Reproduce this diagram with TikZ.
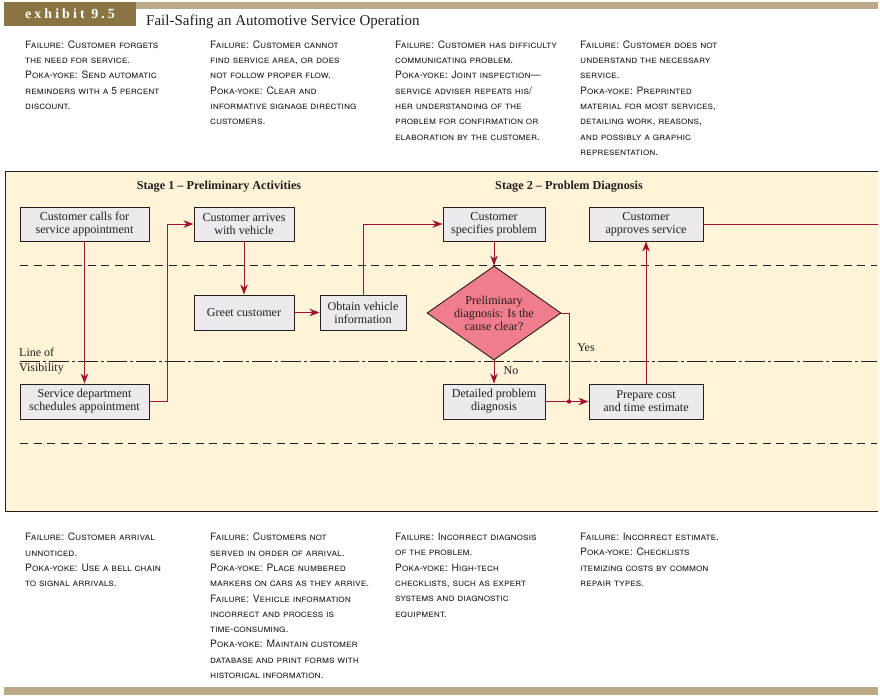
\documentclass[tikz,border=0pt]{standalone}
\usepackage{fontspec}
\setmainfont{Liberation Serif}
\newfontfamily\heros{TeX Gyre Heros}
\newfontfamily\exfont[LetterSpace=22]{Liberation Serif}
\usetikzlibrary{arrows.meta,shapes.geometric}
\definecolor{cream}{HTML}{FFF4D7}
\definecolor{boxfill}{HTML}{EDE9EE}
\definecolor{linered}{HTML}{A50F33}
\definecolor{pinkd}{HTML}{F07D8B}
\definecolor{goldd}{HTML}{8A7441}
\definecolor{goldl}{HTML}{BCA985}
\definecolor{ink}{HTML}{231F20}
\tikzset{
  procbox/.style={draw=ink, line width=0.9pt, fill=boxfill, align=center, inner sep=1pt,
    font=\fontsize{12.1}{13}\selectfont, text=ink},
  decbox/.style={diamond, draw=ink, line width=0.9pt, fill=pinkd, align=center, inner sep=0pt,
    aspect=1.4, minimum width=134pt, minimum height=94pt, font=\fontsize{12.1}{13}\selectfont, text=ink},
  conn/.style={draw=linered, line width=1pt, -{Stealth[length=10pt,width=7.5pt,inset=3pt]}},
  plainconn/.style={draw=linered, line width=1pt},
  lanedash/.style={draw=ink, line width=1pt, dash pattern=on 8pt off 5.5pt},
  visline/.style={draw=ink, line width=1pt, dash pattern=on 20pt off 3pt on 3pt off 3pt},
  coltext/.style={anchor=north west, align=left, inner sep=0pt, text=ink,
    font=\heros\scshape\fontsize{10.2}{15.3}\selectfont},
  stagelbl/.style={font=\bfseries\fontsize{12.2}{13}\selectfont, text=ink, inner sep=0pt},
  plainlbl/.style={font=\fontsize{12}{15}\selectfont, text=ink, inner sep=0pt, align=left}
}
\begin{document}
\begin{tikzpicture}[x=1pt,y=-1pt]
\useasboundingbox (0,0) rectangle (880,699);
% header
\fill[goldl] (136,2) rectangle (878,9);
\fill[goldd] (4,2) rectangle (136,26);
\node[text=white, font=\exfont\bfseries\fontsize{14}{15}\selectfont, inner sep=0pt] (exh) at (70,14) {exhibit 9.5};
\node[anchor=base west, inner sep=0pt, text=ink, font=\fontsize{15}{16}\selectfont] (title) at (146,25.5) {Fail-Safing an Automotive Service Operation};
\fill[goldl] (4,687) rectangle (878,695);
% top columns
\node[coltext] (t1) at (25,40.5) {Failure: Customer forgets\\the need for service.\\Poka-yoke: Send automatic\\reminders with a 5 percent\\discount.};
\node[coltext] (t2) at (210,40.5) {Failure: Customer cannot\\find service area, or does\\not follow proper flow.\\Poka-yoke: Clear and\\informative signage directing\\customers.};
\node[coltext] (t3) at (395,40.5) {Failure: Customer has difficulty\\communicating problem.\\Poka-yoke: Joint inspection—\\service adviser repeats his/\\her understanding of the\\problem for confirmation or\\elaboration by the customer.};
\node[coltext] (t4) at (580,40.5) {Failure: Customer does not\\understand the necessary\\service.\\Poka-yoke: Preprinted\\material for most services,\\detailing work, reasons,\\and possibly a graphic\\representation.};
% bottom columns
\node[coltext] (b1) at (25,533) {Failure: Customer arrival\\unnoticed.\\Poka-yoke: Use a bell chain\\to signal arrivals.};
\node[coltext] (b2) at (210,533) {Failure: Customers not\\served in order of arrival.\\Poka-yoke: Place numbered\\markers on cars as they arrive.\\Failure: Vehicle information\\incorrect and process is\\time-consuming.\\Poka-yoke: Maintain customer\\database and print forms with\\historical information.};
\node[coltext] (b3) at (395,533) {Failure: Incorrect diagnosis\\of the problem.\\Poka-yoke: High-tech\\checklists, such as expert\\systems and diagnostic\\equipment.};
\node[coltext] (b4) at (580,533) {Failure: Incorrect estimate.\\Poka-yoke: Checklists\\itemizing costs by common\\repair types.};
% frame
\fill[cream] (5,171) rectangle (878,511);
\draw[ink, line width=1pt] (878,171) -- (5,171) -- (5,511) -- (878,511);
% lanes
\draw[lanedash] (20,265) -- (877,265);
\draw[lanedash] (20,443) -- (877,443);
\draw[visline] (20,361) -- (877,361);
\node[plainlbl, anchor=west] (lov) at (19,361) {Line of\\Visibility};
% stage labels
\node[stagelbl] (s1) at (219,187) {Stage 1 – Preliminary Activities};
\node[stagelbl] (s2) at (569,187) {Stage 2 – Problem Diagnosis};
% boxes
\node[procbox, minimum width=129pt, minimum height=34pt] (B1) at (84.5,224) {Customer calls for\\service appointment};
\node[procbox, minimum width=100pt, minimum height=34pt] (B2) at (244,224) {Customer arrives\\with vehicle};
\node[procbox, minimum width=100pt, minimum height=35pt] (B3) at (244,312.5) {Greet customer};
\node[procbox, minimum width=86pt, minimum height=35pt] (B4) at (363,312.5) {Obtain vehicle\\information};
\node[procbox, minimum width=129pt, minimum height=35pt] (B5) at (84.5,401.5) {Service department\\schedules appointment};
\node[procbox, minimum width=102pt, minimum height=34pt] (B6) at (494,224) {Customer\\specifies problem};
\node[procbox, minimum width=114pt, minimum height=34pt] (B7) at (646,224) {Customer\\approves service};
\node[decbox] (D) at (494,313) {Preliminary\\diagnosis: Is the\\cause clear?};
\node[procbox, minimum width=102pt, minimum height=35pt] (B8) at (494,401.5) {Detailed problem\\diagnosis};
\node[procbox, minimum width=114pt, minimum height=35pt] (B9) at (646,401.5) {Prepare cost\\and time estimate};
\node[plainlbl] (no) at (511,371) {No};
\node[plainlbl] (yes) at (586,348) {Yes};
\coordinate (J) at (569,401.5);
\coordinate (E) at (878,224);
% connectors
\draw[conn] (B1.south) -- (B5.north);
\draw[conn] (B5.east) -- ++(18,0) |- (B2.west);
\draw[conn] (B2.south) -- (B3.north);
\draw[conn] (B3.east) -- (B4.west);
\draw[conn] (B4.north) |- (B6.west);
\draw[conn] (B6.south) -- (D.north);
\draw[conn] (D.south) -- (B8.north);
\draw[plainconn] (D.east) -| (J);
\draw[conn] (B8.east) -- (B9.west);
\fill[linered] (J) circle (2.2pt);
\draw[conn] (B9.north) -- (B7.south);
\draw[plainconn] (B7.east) -- (E);
\end{tikzpicture}
\end{document}
